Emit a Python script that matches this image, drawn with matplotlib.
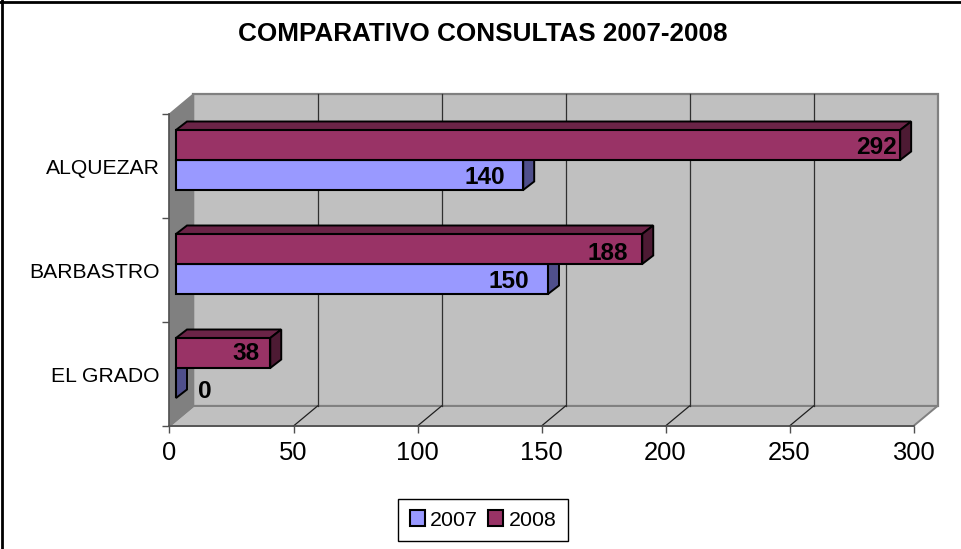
import matplotlib
matplotlib.use("Agg")
import matplotlib.pyplot as plt
from matplotlib.patches import Polygon
from matplotlib.lines import Line2D

plt.rcParams['font.family'] = ['Liberation Sans', 'DejaVu Sans']

categories = ['EL GRADO', 'BARBASTRO', 'ALQUEZAR']
values_2007 = [0, 150, 140]
values_2008 = [38, 188, 292]
x_ticks = [0, 50, 100, 150, 200, 250, 300]
title = 'COMPARATIVO CONSULTAS 2007-2008'

W, H = 962, 549
L, R, T, B = 169.5, 913.5, 114, 426
XMAX = 300
NCAT = len(categories)
PX = (R - L) / XMAX
PY = (B - T) / NCAT
DX, DY = 24 / PX, 20 / PY            # depth of the plot box
BX, BY = 11 / PX, 8.5 / PY           # depth of each bar
SX, SY = 6.5 / PX, 6 / PY            # bars' shift from the front plane
BAR_H = 30 / PY

C07, C07_SIDE = '#9999FF', '#4F4F8C'
C08, C08_SIDE, C08_TOP = '#993366', '#4D1A33', '#6B2447'
GREY, WALL = '#808080', '#C0C0C0'

fig = plt.figure(figsize=(W / 100, H / 100), dpi=100, facecolor='white')
ax = fig.add_axes([L / W, 1 - B / H, (R - L) / W, (B - T) / H])
ax.patch.set_visible(False)
ax.set_xlim(0, XMAX)
ax.set_ylim(0, NCAT)


def quad(pts, fc, ec='none', lw=1.0, z=1):
    ax.add_patch(Polygon(pts, closed=True, fc=fc, ec=ec, lw=lw, zorder=z,
                         clip_on=False, joinstyle='miter'))


# walls and floor
quad([(DX, DY), (XMAX + DX, DY), (XMAX + DX, NCAT + DY), (DX, NCAT + DY)], WALL, GREY, 1.6, 1)
quad([(0, 0), (XMAX, 0), (XMAX + DX, DY), (DX, DY)], WALL, GREY, 1.4, 1.1)
quad([(0, 0), (DX, DY), (DX, NCAT + DY), (0, NCAT)], GREY, GREY, 1.0, 1.2)

for t in x_ticks[1:-1]:
    ax.plot([t + DX, t + DX], [DY, NCAT + DY], color='#303030', lw=0.9, zorder=1.5, clip_on=False)
    ax.plot([t, t + DX], [0, DY], color='#202020', lw=0.9, zorder=1.5, clip_on=False)

# bars
ys = [i + 0.5 + SY for i in range(NCAT)]
ys07 = [y - BAR_H / 2 for y in ys]
ys08 = [y + BAR_H / 2 for y in ys]


def bar_depth(y, v, side, top=None):
    x1 = SX + v
    y0, y1 = y - BAR_H / 2, y + BAR_H / 2
    if top is not None:
        quad([(SX, y1), (x1, y1), (x1 + BX, y1 + BY), (SX + BX, y1 + BY)], top, 'black', 1.4, 3)
    quad([(x1, y0), (x1 + BX, y0 + BY), (x1 + BX, y1 + BY), (x1, y1)], side, 'black', 1.4, 3)


for y, v in zip(ys07, values_2007):
    bar_depth(y, v, C07_SIDE)
bars07 = ax.barh(ys07, values_2007, BAR_H, left=SX, color=C07, edgecolor='black',
                 linewidth=1.5, zorder=3.2, clip_on=False, label='2007')
for y, v in zip(ys08, values_2008):
    bar_depth(y, v, C08_SIDE, C08_TOP)
bars08 = ax.barh(ys08, values_2008, BAR_H, left=SX, color=C08, edgecolor='black',
                 linewidth=1.5, zorder=3.4, clip_on=False, label='2008')

# data labels (horizontal/vertical nudges in pixels from the bar end)
nudge07 = [(29, -9), (-39, -3), (-38, -2)]
nudge08 = [(-24.5, -1), (-34.5, -4), (-24, -2)]
for ys_, vals, nudges in ((ys07, values_2007, nudge07), (ys08, values_2008, nudge08)):
    for y, v, n in zip(ys_, vals, nudges):
        ax.annotate(str(v), (SX + v, y), xytext=(n[0] * 0.72, n[1] * 0.72), textcoords='offset points',
                    ha='center', va='center', fontsize=17.6, fontweight='bold', color='black', zorder=5,
                    annotation_clip=False)

# axes
for s in ('top', 'right'):
    ax.spines[s].set_visible(False)
for s in ('left', 'bottom'):
    ax.spines[s].set_color('#505050')
    ax.spines[s].set_linewidth(1.2)
    ax.spines[s].set_zorder(2)
ax.set_xticks(x_ticks)
ax.set_xticklabels([str(t) for t in x_ticks], fontsize=18.4)
ax.tick_params(axis='x', length=5, width=1, color='#505050', pad=6)
ax.set_yticks(range(NCAT + 1))
ax.set_yticklabels([])
ax.tick_params(axis='y', which='major', length=5, width=1, color='#505050')
ax.set_yticks([i + 0.5 for i in range(NCAT)], minor=True)
ax.set_yticklabels(categories, minor=True, fontsize=15.2)
ax.tick_params(axis='y', which='minor', length=0, pad=7)

fig.text(483 / W, 1 - 34 / H, title, ha='center', va='center', fontsize=18.8, fontweight='bold')

# legend
leg = fig.legend(handles=[bars07, bars08], labels=['2007', '2008'], ncol=2, frameon=True,
                 loc='center', bbox_to_anchor=(483 / W, 1 - 520 / H), fontsize=15.4, fancybox=False,
                 edgecolor='black', framealpha=1, handlelength=0.72, handleheight=0.72,
                 handletextpad=0.25, columnspacing=0.45, borderpad=0.55)
leg.get_frame().set_linewidth(1.0)

# chart-area border on the left and top only
fig.add_artist(Line2D([1.5 / W, 1.5 / W], [0, 1], color='black', lw=2, transform=fig.transFigure))
fig.add_artist(Line2D([0, 1], [1 - 1.5 / H, 1 - 1.5 / H], color='black', lw=2, transform=fig.transFigure))

fig.savefig('out.png', dpi=100)
